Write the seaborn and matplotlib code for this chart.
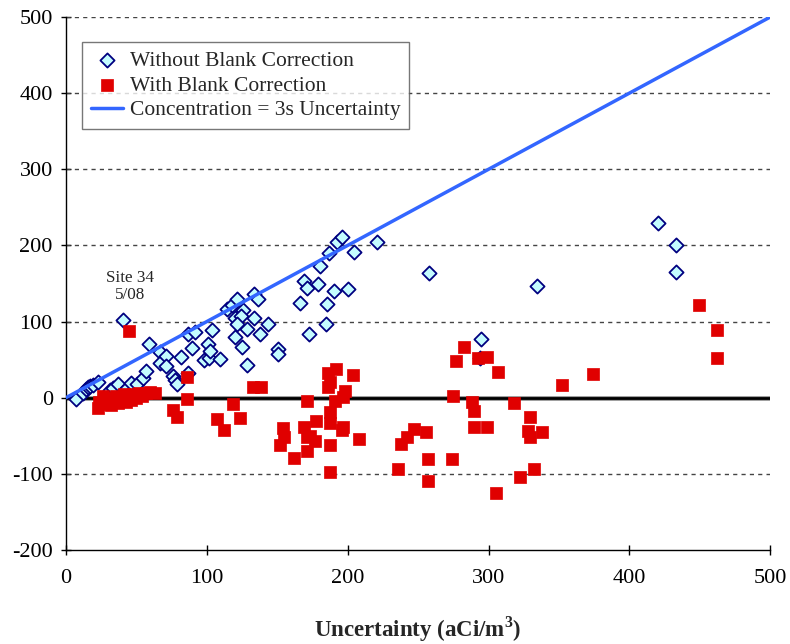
import matplotlib
matplotlib.use("Agg")
import matplotlib.pyplot as plt
import seaborn as sns
import pandas as pd

# Without blank correction (uncertainty, concentration)
without_x = [7.1, 12.1, 14.2, 15.6, 17.0, 19.2, 22.7, 31.3, 33.4, 36.9, 40.5, 40.5, 43.3, 46.2,
             50.4, 54.7, 56.8, 58.9, 66.8, 66.8, 71.0, 71.0, 76.0, 77.4, 78.8, 86.6, 81.7, 89.5,
             86.6, 91.6, 98.0, 101.6, 109.4, 100.9, 103.7, 102.3, 114.3, 117.9, 121.4, 120.0,
             120.0, 125.7, 124.3, 133.5, 133.5, 136.4, 121.4, 143.5, 128.6, 125.0, 150.6, 150.6,
             128.6, 137.8, 166.2, 169.0, 171.2, 179.0, 180.4, 186.8, 192.5, 196.0, 204.5, 220.9,
             190.3, 200.3, 185.4, 184.7, 172.6, 257.8, 294.7, 294.0, 334.5, 420.5, 433.2, 433.2]
without_y = [-1.3, 6.6, 11.8, 14.5, 15.8, 17.1, 21.0, 10.5, 13.1, 18.4, 102.0, 7.9, 13.1, 19.7,
             18.4, 26.3, 35.5, 71.0, 60.4, 46.0, 55.2, 42.0, 28.9, 23.7, 18.4, 32.9, 53.9, 65.7,
             84.1, 86.7, 49.9, 52.6, 51.2, 71.0, 89.4, 61.8, 117.0, 122.2, 130.1, 105.1,
             80.2, 115.6, 107.8, 105.1, 136.7, 130.1, 97.2, 97.2, 90.7, 67.0, 64.4, 57.8,
             43.4, 84.1, 124.8, 153.7, 144.5, 149.8, 173.5, 190.5, 205.0, 211.6, 191.9, 205.0,
             140.6, 143.2, 123.5, 97.2, 84.1, 164.3, 77.5, 52.6, 147.2, 230.0, 201.1, 165.6]

# With blank correction (uncertainty, concentration)
with_x = [44.7, 22.7, 23.4, 26.3, 28.4, 29.8, 32.0, 33.4, 35.5, 36.9, 39.1, 41.2, 42.6, 44.0,
          46.2, 47.6, 49.7, 51.8, 54.0, 56.8, 59.7, 63.2, 85.9, 85.9, 76.0, 78.8, 118.6, 107.2,
          123.6, 112.2, 132.8, 138.5, 171.2, 154.1, 154.8, 152.0, 161.9, 171.2, 177.6, 169.0,
          173.3, 176.8, 171.2, 187.5, 187.5, 191.8, 186.1, 187.5, 186.1, 203.8, 198.2, 196.7,
          191.1, 187.5, 187.5, 196.7, 196.0, 208.1, 282.7, 277.0, 292.6, 299.0, 306.8, 274.9,
          288.4, 289.8, 289.8, 299.0, 318.2, 329.5, 328.1, 329.5, 338.1, 352.3, 374.3, 257.1,
          274.1, 235.8, 257.1, 305.4, 332.4, 322.4, 247.2, 242.2, 237.9, 255.7, 449.6, 462.4,
          462.4]
with_y = [88.0, -13.1, -5.3, 2.6, -7.9, 0.0, -9.2, -2.6, 2.6, -6.6, -1.3, 5.3, -5.3, 2.6,
          -2.6, 5.3, 0.0, 6.6, 2.6, 6.6, 7.9, 6.6, 27.6, -1.3, -15.8, -25.0, -7.9, -27.6,
          -26.3, -42.0, 14.5, 14.5, -3.9, -39.4, -51.2, -61.8, -78.8, -69.6, -30.2, -38.1,
          -49.9, -56.5, -51.2, -61.8, -97.2, 38.1, 32.9, 21.0, 14.5, 30.2, 9.2, 1.3,
          -3.9, -18.4, -32.9, -38.1, -42.0, -53.9, 67.0, 48.6, 52.6, 53.9, 34.2, 2.6,
          -5.3, -17.1, -38.1, -38.1, -6.6, -25.0, -43.4, -51.2, -44.7, 17.1, 31.5, -80.2,
          -80.2, -93.3, -109.1, -124.8, -93.3, -103.8, -40.7, -51.2, -60.4, -44.7, 122.2, 89.4,
          52.6]

line_x = [0, 500]
line_y = [0, 500]

x_ticks = [0, 100, 200, 300, 400, 500]
y_ticks = [-200, -100, 0, 100, 200, 300, 400, 500]

sns.set_theme(style="white")
plt.rcParams['font.family'] = ['Liberation Serif', 'DejaVu Serif']
plt.rcParams['axes.unicode_minus'] = False
plt.rcParams['mathtext.fontset'] = 'custom'
plt.rcParams['mathtext.rm'] = 'Liberation Serif'
plt.rcParams['mathtext.bf'] = 'Liberation Serif:bold'

fig = plt.figure(figsize=(7.9, 6.44), dpi=100)
ax = fig.add_axes([0.0835, 0.146, 0.8915, 0.8276])

df_wo = pd.DataFrame({"x": without_x, "y": without_y})
df_w = pd.DataFrame({"x": with_x, "y": with_y})
df_l = pd.DataFrame({"x": line_x, "y": line_y})

for yv in [-100, 100, 200, 300, 400, 500]:
    ax.axhline(yv, color="#444444", lw=1.0, ls=(0, (3, 3)), zorder=1)
ax.axhline(0, color="#999999", lw=3.5, zorder=1.5)
ax.axhline(0, color="black", lw=2.0, zorder=1.6)

sns.scatterplot(data=df_wo, x="x", y="y", ax=ax, marker="D", s=52,
                color="#C4FCFF", edgecolor="#000080", linewidth=1.3,
                label="Without Blank Correction", zorder=3)
sns.scatterplot(data=df_w, x="x", y="y", ax=ax, marker="s", s=75,
                color="#E00000", edgecolor="#E00000", linewidth=0.5,
                label="With Blank Correction", zorder=4)
sns.lineplot(data=df_l, x="x", y="y", ax=ax, color="#3366FF", lw=2.5,
             label="Concentration = 3s Uncertainty", zorder=5)

ax.set_xlim(0, 500)
ax.set_ylim(-200, 500)
ax.set_xticks(x_ticks)
ax.set_yticks(y_ticks)
ax.tick_params(axis="both", direction="inout", length=7, width=1, labelsize=16,
               colors="black", bottom=True, left=True)
ax.tick_params(axis="x", pad=10)
ax.tick_params(axis="y", pad=6)
for s in ["top", "right"]:
    ax.spines[s].set_visible(False)
for s in ["left", "bottom"]:
    ax.spines[s].set_color("black")
    ax.spines[s].set_linewidth(1.0)

ax.set_xlabel("Uncertainty (aCi/m$^\\mathbf{3}$)", fontsize=16.5, fontweight="bold",
              labelpad=19)
ax.set_ylabel("")

ax.text(45.5, 146, "Site 34\n5/08", ha="center", va="center", fontsize=12.3,
        linespacing=1.15)

leg = ax.legend(loc="upper left", bbox_to_anchor=(0.023, 0.953), fontsize=15.5,
                frameon=True, fancybox=False, edgecolor="#555555",
                borderpad=0.4, labelspacing=0.22, handlelength=1.5,
                handletextpad=0.3, borderaxespad=0)
leg.get_frame().set_linewidth(1.0)

fig.savefig("out.png", dpi=100)
